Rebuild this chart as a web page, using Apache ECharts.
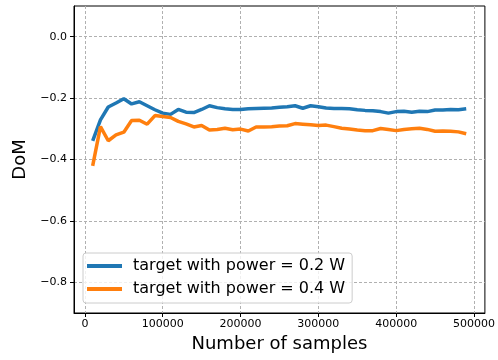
<!DOCTYPE html>
<html>
<head>
<meta charset="utf-8">
<script src="https://cdn.jsdelivr.net/npm/echarts@6/dist/echarts.min.js"></script>
<style>html,body{margin:0;padding:0;background:#fff}#c{width:498px;height:360px}</style>
</head>
<body>
<div id="c"></div>
<script>
const samples = [10000,20000,30000,40000,50000,60000,70000,80000,90000,100000,
  110000,120000,130000,140000,150000,160000,170000,180000,190000,200000,
  210000,220000,230000,240000,250000,260000,270000,280000,290000,300000,
  310000,320000,330000,340000,350000,360000,370000,380000,390000,400000,
  410000,420000,430000,440000,450000,460000,470000,480000,490000];
const dom02 = [-0.339,-0.271,-0.229,-0.216,-0.202,-0.219,-0.212,-0.225,-0.238,-0.249,
  -0.253,-0.237,-0.246,-0.247,-0.237,-0.225,-0.231,-0.235,-0.237,-0.237,
  -0.235,-0.234,-0.233,-0.232,-0.230,-0.228,-0.225,-0.233,-0.225,-0.228,
  -0.232,-0.234,-0.234,-0.235,-0.238,-0.240,-0.241,-0.244,-0.249,-0.244,
  -0.243,-0.246,-0.243,-0.244,-0.239,-0.239,-0.237,-0.238,-0.235];
const dom04 = [-0.421,-0.293,-0.339,-0.320,-0.311,-0.273,-0.272,-0.285,-0.257,-0.260,
  -0.263,-0.276,-0.284,-0.294,-0.289,-0.304,-0.302,-0.298,-0.303,-0.301,
  -0.307,-0.294,-0.294,-0.293,-0.291,-0.290,-0.283,-0.285,-0.287,-0.289,
  -0.288,-0.293,-0.298,-0.301,-0.304,-0.306,-0.306,-0.299,-0.302,-0.306,
  -0.302,-0.300,-0.298,-0.302,-0.308,-0.307,-0.308,-0.310,-0.316];
const xTicks = [0,100000,200000,300000,400000,500000];
const yTicks = [-0.8,-0.6,-0.4,-0.2,0.0];
const seriesNames = ['target with power = 0.2 W','target with power = 0.4 W'];

const font = 'DejaVu Sans';
const chart = echarts.init(document.getElementById('c'), null, {renderer:'canvas'});
const gridLine = {show:true, lineStyle:{color:'#b0b0b0', width:1, type:[3,2]}};
chart.setOption({
  animation:false,
  grid:{left:74, right:13, top:6, bottom:47, show:true, borderColor:'#000', borderWidth:1, backgroundColor:'transparent'},
  xAxis:{
    type:'value', min:-14000, max:514000,
    name:'Number of samples', nameLocation:'middle', nameGap:22,
    nameTextStyle:{fontFamily:font, fontSize:18, color:'#000'},
    axisLine:{show:true, onZero:false, lineStyle:{color:'#000', width:1}},
    axisTick:{show:true, length:4, customValues:xTicks, lineStyle:{color:'#000'}},
    axisLabel:{customValues:xTicks, margin:6, fontFamily:font, fontSize:11, color:'#000',
      formatter:v => String(Math.round(v))},
    splitLine:gridLine
  },
  yAxis:{
    type:'value', min:-0.9, max:0.1,
    name:'DoM', nameLocation:'middle', nameGap:39, nameRotate:90,
    nameTextStyle:{fontFamily:font, fontSize:18, color:'#000'},
    axisLine:{show:true, onZero:false, lineStyle:{color:'#000', width:1}},
    axisTick:{show:true, length:4, customValues:yTicks, lineStyle:{color:'#000'}},
    axisLabel:{customValues:yTicks, margin:7, fontFamily:font, fontSize:11, color:'#000',
      formatter:v => (v < -1e-9 ? '\u2212' : '') + Math.abs(v).toFixed(1)},
    splitLine:gridLine
  },
  legend:{
    orient:'vertical', left:83, top:253,
    backgroundColor:'rgba(255,255,255,0.8)', borderColor:'#cccccc', borderWidth:1, borderRadius:3,
    padding:[4,7,5,4], itemGap:5, itemWidth:35, itemHeight:4, icon:'rect',
    textStyle:{fontFamily:font, fontSize:16, color:'#000', lineHeight:18, padding:[0,0,0,6]},
    data:seriesNames
  },
  series:[
    {name:seriesNames[0], type:'line', data:samples.map((x,i)=>[x,dom02[i]]), showSymbol:false,
     color:'#1f77b4', lineStyle:{width:3.5, color:'#1f77b4'}, z:3},
    {name:seriesNames[1], type:'line', data:samples.map((x,i)=>[x,dom04[i]]), showSymbol:false,
     color:'#ff7f0e', lineStyle:{width:3.5, color:'#ff7f0e'}, z:4}
  ]
});
</script>
</body>
</html>
